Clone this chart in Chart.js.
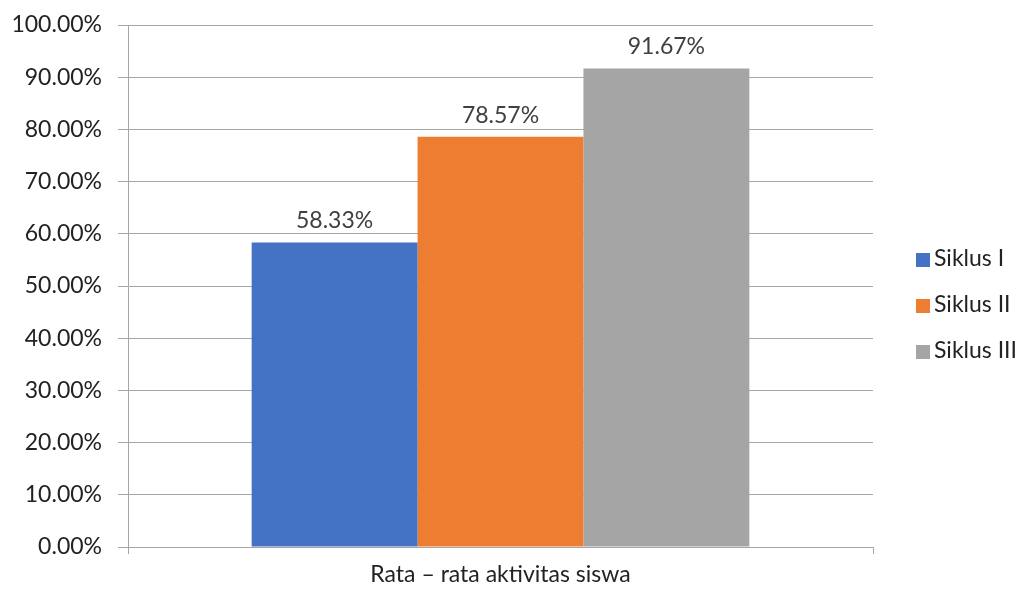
<!DOCTYPE html>
<html>
<head>
<meta charset="utf-8">
<script src="https://cdn.jsdelivr.net/npm/chart.js@4"></script>
<style>
  html, body { margin: 0; padding: 0; background: #fff; }
  #wrap { position: relative; width: 1026px; height: 592px; }
  #legend { position: absolute; left: 916px; top: 240px; font-family: Lato, "Open Sans", sans-serif; font-size: 23px; color: #222; }
  #legend div { height: 46px; line-height: 34px; white-space: nowrap; }
  #legend span { display: inline-block; width: 14px; height: 14px; margin-right: 4px; vertical-align: -1px; }
</style>
</head>
<body>
<div id="wrap"><canvas id="chart"></canvas><div id="legend"></div></div>
<script>
var categories = ['Rata \u2013 rata aktivitas siswa'];
var seriesNames = ['Siklus I', 'Siklus II', 'Siklus III'];
var seriesValues = [[58.33], [78.57], [91.67]];
var seriesColors = ['#4472C4', '#ED7D31', '#A5A5A5'];
var yTicks = [0, 10, 20, 30, 40, 50, 60, 70, 80, 90, 100];

var fontFamily = 'Lato, "Open Sans", sans-serif';

// legend drawn as html so it can sit exactly where the original has it
var legendEl = document.getElementById('legend');
seriesNames.forEach(function (n, i) {
    var row = document.createElement('div');
    var box = document.createElement('span');
    box.style.background = seriesColors[i];
    row.appendChild(box);
    row.appendChild(document.createTextNode(n));
    legendEl.appendChild(row);
});

var barLabels = {
    id: 'barLabels',
    afterDatasetsDraw: function (chart) {
        var ctx = chart.ctx;
        ctx.save();
        ctx.font = '23px ' + fontFamily;
        ctx.fillStyle = '#404040';
        ctx.textAlign = 'center';
        ctx.textBaseline = 'bottom';
        chart.data.datasets.forEach(function (ds, i) {
            chart.getDatasetMeta(i).data.forEach(function (bar, j) {
                ctx.fillText(ds.data[j].toFixed(2) + '%', bar.x, bar.y - 10);
            });
        });
        ctx.restore();
    }
};

new Chart(document.getElementById('chart'), {
    type: 'bar',
    data: {
        labels: categories,
        datasets: seriesNames.map(function (n, i) {
            return {
                label: n,
                data: seriesValues[i],
                backgroundColor: seriesColors[i],
                barPercentage: 1,
                categoryPercentage: 0.668
            };
        })
    },
    plugins: [barLabels],
    options: {
        responsive: true,
        maintainAspectRatio: false,
        animation: false,
        layout: { padding: { left: 0, top: 25, right: 153, bottom: 0 } },
        plugins: {
            tooltip: { enabled: false },
            legend: { display: false }
        },
        scales: {
            y: {
                min: 0,
                max: 100,
                afterBuildTicks: function (axis) {
                    axis.ticks = yTicks.map(function (v) { return { value: v }; });
                },
                afterFit: function (axis) {
                    axis.width = 128;
                    axis.paddingTop = 0;
                    axis.paddingBottom = 0;
                },
                ticks: {
                    color: '#222',
                    padding: 16,
                    font: { size: 23, family: fontFamily },
                    callback: function (v) { return Number(v).toFixed(2) + '%'; }
                },
                grid: { color: '#a6a6a6', tickLength: 10, lineWidth: 1 },
                border: { color: '#a6a6a6' }
            },
            x: {
                afterFit: function (axis) { axis.height = 45; },
                ticks: {
                    color: '#222',
                    padding: 7,
                    font: { size: 23, family: fontFamily }
                },
                grid: { drawOnChartArea: false, color: '#a6a6a6', tickLength: 7, offset: true },
                border: { color: '#a6a6a6' }
            }
        }
    }
});
</script>
</body>
</html>
